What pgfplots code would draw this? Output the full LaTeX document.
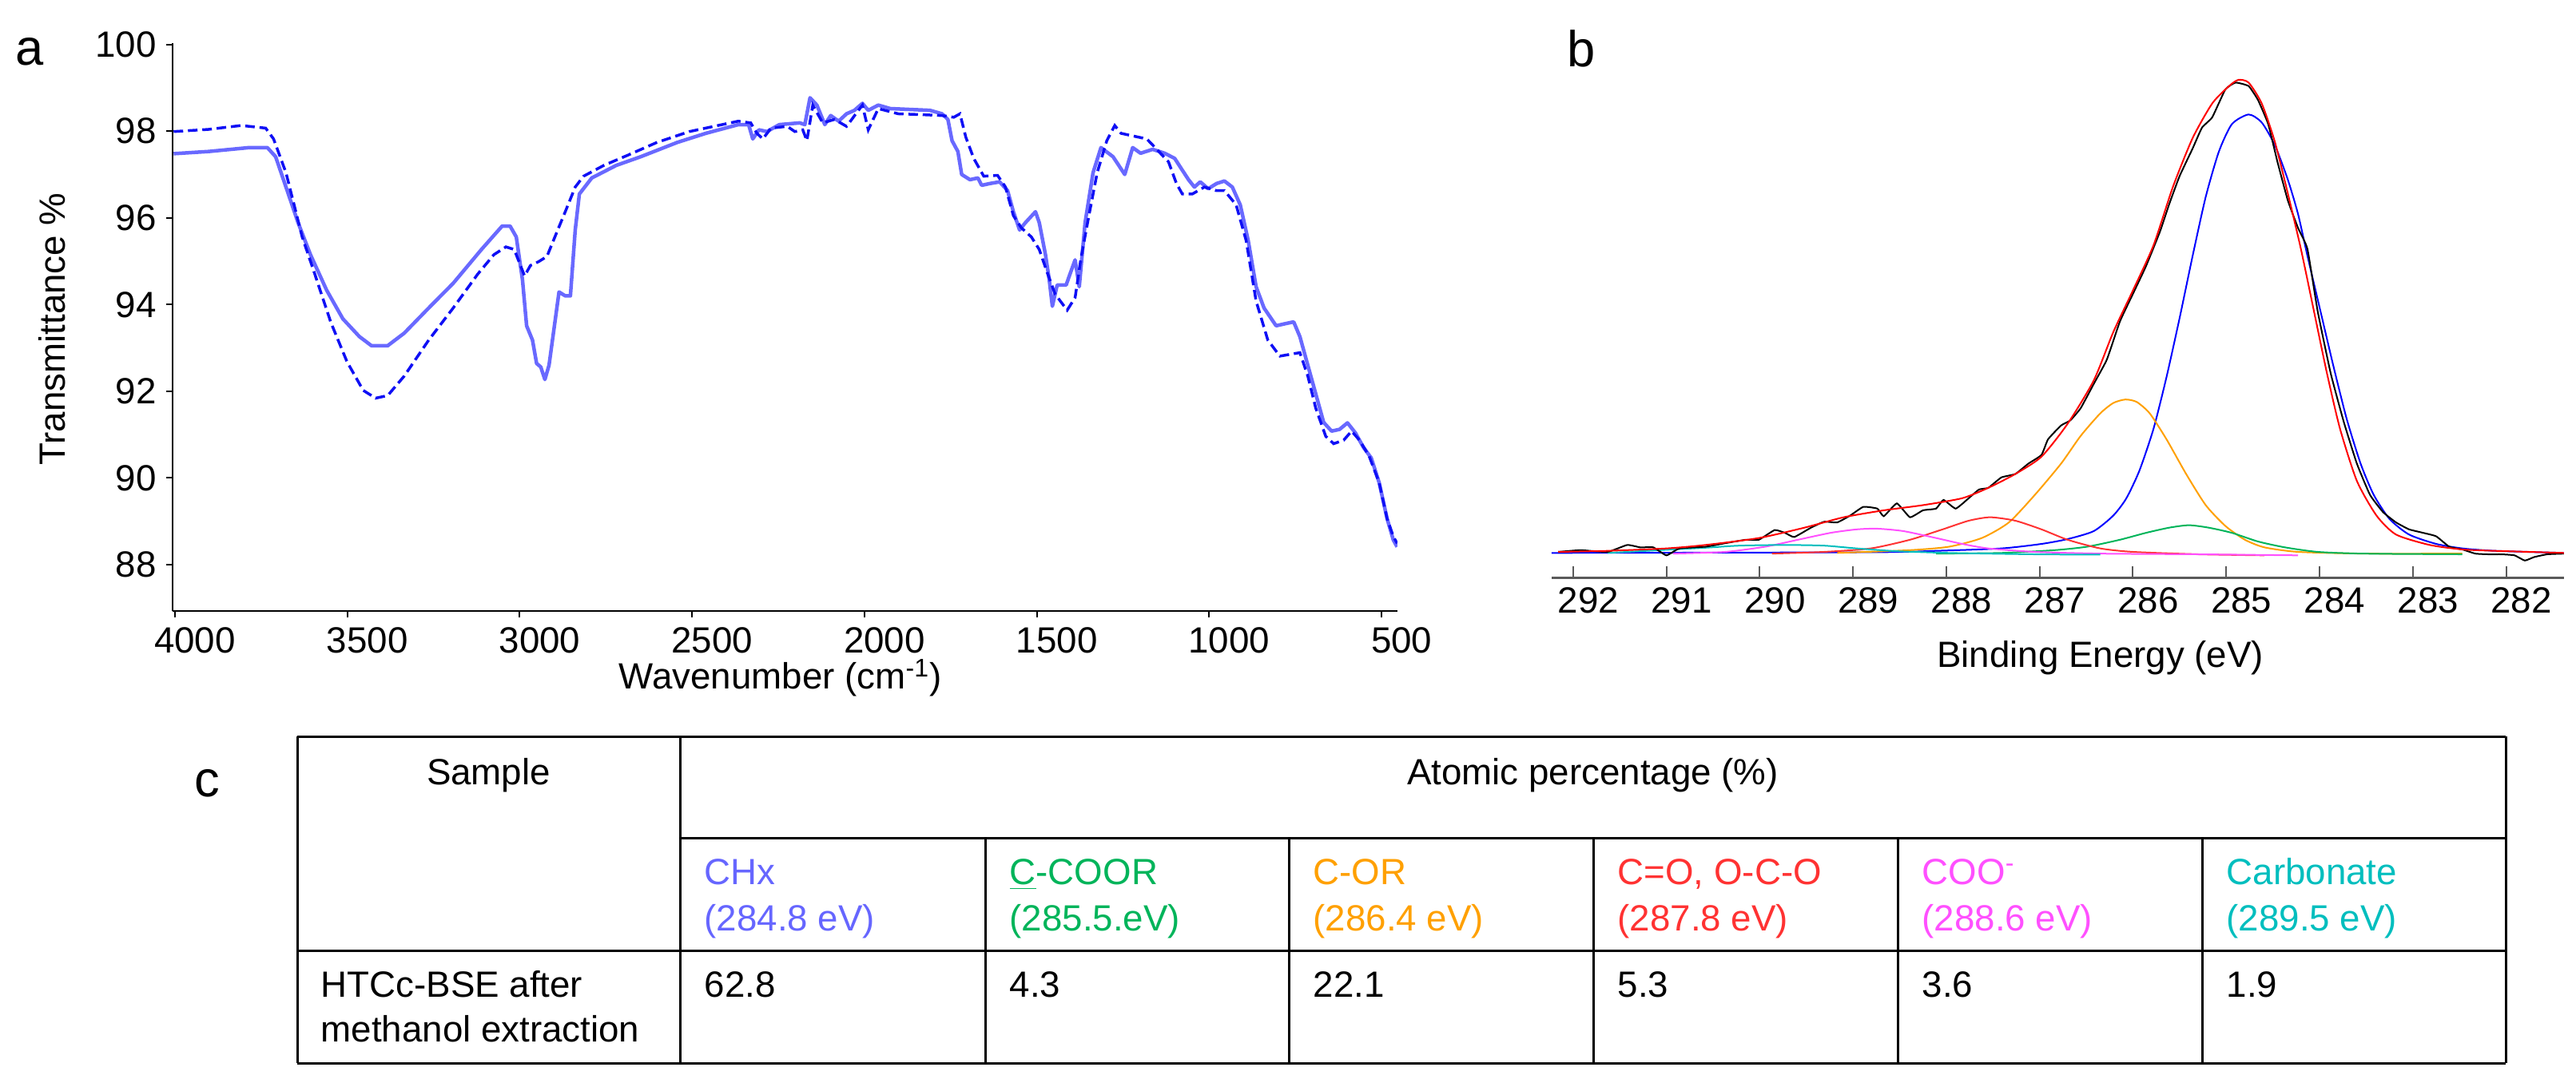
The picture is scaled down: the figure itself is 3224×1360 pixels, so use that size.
\documentclass[border=0pt]{standalone}
\usepackage{fontspec}
\setmainfont{Liberation Sans}
\usepackage{pgfplots}
\pgfplotsset{compat=1.18}

\definecolor{ftirA}{RGB}{105,105,255}
\definecolor{ftirB}{RGB}{15,15,245}
\definecolor{cCHx}{RGB}{102,102,255}
\definecolor{cCCOOR}{RGB}{0,180,90}
\definecolor{cCOR}{RGB}{255,160,0}
\definecolor{cCO}{RGB}{255,50,50}
\definecolor{cCOO}{RGB}{255,80,255}
\definecolor{cCarb}{RGB}{0,190,190}
\definecolor{axgray}{RGB}{90,90,90}

\newcommand\fs{\fontsize{13}{15.6}\selectfont}
\newcommand\fl{\fontsize{18}{20}\selectfont}

\begin{document}
\begin{tikzpicture}[x=0.1mm,y=0.1mm,font=\fs]
\useasboundingbox (0,0) rectangle (3224,1360);

% ---- a: FTIR ----
\begin{axis}[
    at={(21.6mm,59.5mm)}, anchor=south west, scale only axis,
    width=153.3mm, height=71.1mm,
    xmin=454, xmax=4007, ymin=86.93, ymax=100.03,
    x dir=reverse,
    axis x line=bottom, axis y line=left,
    axis line style={-, line width=0.2mm},
    tick align=outside, major tick length=0.8mm,
    tick style={black, line width=0.2mm},
    xtick={500,1000,...,4000}, ytick={88,90,...,100},
    scaled ticks=false,
    tick label style={font=\fs},
    xticklabel style={xshift=2.5mm},
    /pgf/number format/1000 sep={},
    /pgf/number format/assume math mode=true,
    xlabel={Wavenumber (cm\textsuperscript{-1})},
    ylabel={Transmittance \%},
    every axis x label/.style={at={(axis description cs:0.4964,-0.1378)}, anchor=base, font=\fs},
    every axis y label/.style={at={(axis description cs:-0.0875,0.4965)}, rotate=90, anchor=base, font=\fs},
]
\addplot[ftirA, line width=0.45mm, line join=round] coordinates {
(4004,97.48)(3903,97.53)(3785,97.62)(3732,97.62)(3708,97.41)(3678,96.71)
(3643,95.89)(3607,95.15)(3560,94.33)(3513,93.67)(3465,93.26)(3430,93.05)
(3383,93.05)(3335,93.34)(3264,93.92)(3193,94.49)(3111,95.27)(3051,95.81)
(3028,95.81)(3010,95.56)(2992,94.57)(2980,93.51)(2963,93.18)(2951,92.64)
(2939,92.56)(2927,92.27)(2915,92.60)(2898,93.59)(2886,94.29)(2868,94.20)
(2853,94.20)(2839,95.72)(2827,96.55)(2791,96.92)(2720,97.21)(2649,97.41)
(2543,97.74)(2460,97.95)(2366,98.15)(2336,98.15)(2324,97.82)(2306,98.03)
(2283,97.99)(2247,98.15)(2188,98.19)(2173,98.15)(2158,98.77)(2138,98.60)
(2115,98.15)(2098,98.36)(2075,98.23)(2052,98.40)(2029,98.48)(2006,98.64)
(1989,98.48)(1960,98.60)(1925,98.52)(1868,98.50)(1810,98.48)(1775,98.40)
(1758,98.27)(1746,97.78)(1729,97.53)(1718,97.00)(1694,96.88)(1671,96.92)
(1660,96.75)(1637,96.79)(1608,96.83)(1585,96.63)(1568,96.14)(1550,95.72)
(1533,95.89)(1504,96.14)(1493,95.89)(1475,95.15)(1464,94.57)(1455,93.96)
(1441,94.45)(1415,94.45)(1404,94.70)(1389,95.03)(1377,94.41)(1360,95.89)
(1337,97.04)(1314,97.62)(1279,97.41)(1245,97.00)(1222,97.62)(1199,97.49)
(1164,97.58)(1129,97.49)(1100,97.37)(1083,97.16)(1060,96.88)(1043,96.71)
(1026,96.83)(1003,96.67)(979,96.79)(956,96.85)(933,96.71)(910,96.30)
(887,95.48)(864,94.41)(841,93.92)(806,93.51)(784,93.55)(755,93.60)
(737,93.26)(714,92.60)(691,91.94)(668,91.28)(645,91.08)(622,91.12)
(599,91.27)(576,91.04)(553,90.71)(530,90.46)(507,89.89)(484,89.06)
(466,88.57)(455,88.41)};
\addplot[ftirB, line width=0.35mm, dash pattern=on 1.2mm off 0.6mm] coordinates {
(4004,97.99)(3903,98.04)(3808,98.13)(3737,98.07)(3714,97.82)(3678,97.04)
(3631,95.56)(3596,94.74)(3548,93.59)(3501,92.68)(3454,92.02)(3418,91.84)
(3383,91.90)(3335,92.35)(3264,93.18)(3193,93.92)(3122,94.70)(3075,95.15)
(3040,95.33)(3016,95.27)(2986,94.66)(2969,94.90)(2945,94.99)(2921,95.11)
(2898,95.56)(2868,96.14)(2839,96.71)(2815,96.96)(2756,97.21)(2685,97.45)
(2602,97.74)(2508,97.99)(2425,98.13)(2366,98.23)(2330,98.19)(2312,97.95)
(2295,97.82)(2271,98.07)(2224,98.11)(2202,97.99)(2179,98.03)(2167,97.78)
(2150,98.60)(2121,98.19)(2087,98.27)(2052,98.11)(2006,98.60)(1989,98.03)
(1960,98.52)(1902,98.40)(1833,98.38)(1775,98.36)(1741,98.32)(1723,98.40)
(1706,97.86)(1683,97.37)(1654,96.96)(1614,96.98)(1591,96.71)(1568,96.05)
(1545,95.77)(1516,95.56)(1493,95.27)(1470,94.74)(1447,94.24)(1412,93.87)
(1389,94.16)(1372,95.07)(1349,96.05)(1325,97.04)(1297,97.78)(1274,98.13)
(1256,97.95)(1216,97.88)(1181,97.82)(1152,97.58)(1118,97.29)(1095,96.79)
(1078,96.55)(1049,96.55)(1014,96.71)(980,96.63)(956,96.63)(922,96.30)
(893,95.48)(864,94.08)(830,93.18)(795,92.81)(766,92.85)(737,92.89)
(714,92.35)(691,91.61)(662,90.96)(639,90.79)(610,90.87)(587,91.08)
(564,90.87)(536,90.50)(507,89.89)(484,89.06)(466,88.65)(455,88.49)};
\end{axis}

% ---- b: XPS C1s ----
\begin{axis}[
    at={(194.2mm,63.65mm)}, anchor=south west, scale only axis,
    width=126.7mm, height=66.95mm,
    xmin=281.38, xmax=292.23, ymin=-72, ymax=1472,
    x dir=reverse,
    axis x line=bottom, axis y line=none,
    axis line style={-, axgray, line width=0.25mm},
    tick align=inside, major tick length=1.5mm,
    tick style={axgray, line width=0.2mm},
    xtick={282,283,...,292},
    tick label style={font=\fs},
    xticklabel style={xshift=1.9mm},
    /pgf/number format/assume math mode=true,
    xlabel={Binding Energy (eV)},
    every axis x label/.style={at={(axis description cs:0.542,-0.1673)}, anchor=base, font=\fs},
    every axis plot/.append style={line width=0.2mm, smooth, tension=0.4},
]
% CHx
\addplot[blue] coordinates {
(292.23,0)(288.81,2)(288.11,6)(287.41,13)(286.98,26)(286.70,40)(286.42,63)
(286.21,108)(286.07,158)(285.93,238)(285.78,358)(285.64,508)(285.50,678)
(285.36,858)(285.22,1028)(285.08,1158)(284.94,1238)(284.76,1266)(284.62,1243)
(284.48,1178)(284.34,1078)(284.23,978)(284.13,858)(283.99,698)(283.85,538)
(283.71,388)(283.56,258)(283.42,168)(283.25,98)(283.04,53)(282.75,26)
(282.47,13)(282.12,6)(281.38,0)};
% C-OR
\addplot[cCOR] coordinates {
(289.17,0)(288.39,8)(287.97,18)(287.62,43)(287.33,88)(287.05,168)(286.77,258)
(286.56,338)(286.35,403)(286.21,433)(286.08,443)(285.96,436)(285.82,403)
(285.64,328)(285.43,228)(285.22,138)(285.01,78)(284.80,38)(284.59,16)
(284.23,3)(283.53,-2)(282.47,-2)};
% C-COOR
\addplot[cCCOOR] coordinates {
(288.11,-2)(287.41,0)(286.84,8)(286.49,18)(286.14,38)(285.86,58)(285.61,73)
(285.40,80)(285.19,73)(284.94,58)(284.66,33)(284.37,16)(284.02,3)
(283.53,-2)(282.47,-4)};
% C=O, O-C-O
\addplot[cCO] coordinates {
(289.87,-2)(289.31,3)(288.81,13)(288.39,38)(288.04,68)(287.76,93)(287.53,103)
(287.26,93)(286.98,68)(286.70,38)(286.35,13)(286.00,3)(285.29,-4)(284.59,-7)};
% COO-
\addplot[cCOO] coordinates {
(290.93,-2)(290.37,3)(289.94,18)(289.59,38)(289.24,58)(288.96,68)(288.74,70)
(288.46,63)(288.11,43)(287.83,26)(287.55,13)(287.05,3)(286.35,-2)
(285.29,-4)(284.23,-7)};
% carbonate
\addplot[cCarb] coordinates {
(291.63,0)(291.07,8)(290.58,15)(290.22,21)(289.73,23)(289.31,21)(288.96,13)
(288.53,5)(287.97,0)(287.05,-4)(286.35,-5)};
% measured
\addplot[black, tension=0.25] coordinates {
(292.16,3)(291.92,8)(291.63,3)(291.42,23)(291.28,16)(291.14,16)(291.00,-7)
(290.86,13)(290.58,18)(290.37,28)(290.15,38)(290.01,38)(289.84,66)(289.73,58)
(289.63,46)(289.45,73)(289.31,90)(289.17,88)(289.03,108)(288.89,133)
(288.74,128)(288.67,106)(288.53,143)(288.39,103)(288.25,123)(288.11,128)
(288.03,153)(287.90,128)(287.76,158)(287.65,183)(287.55,188)(287.41,218)
(287.26,228)(287.12,258)(286.98,283)(286.91,328)(286.77,368)(286.67,383)
(286.56,418)(286.42,488)(286.28,558)(286.14,668)(286.00,748)(285.86,828)
(285.71,928)(285.61,1008)(285.50,1088)(285.36,1168)(285.26,1228)(285.15,1258)
(285.01,1338)(284.90,1358)(284.76,1348)(284.66,1308)(284.55,1238)(284.45,1128)
(284.34,1018)(284.23,938)(284.13,878)(284.02,698)(283.88,518)(283.74,378)
(283.60,258)(283.46,168)(283.32,118)(283.18,88)(283.04,68)(282.89,58)
(282.75,48)(282.61,18)(282.47,10)(282.33,-2)(282.19,-4)(282.05,-4)
(281.91,-7)(281.80,-22)(281.70,-12)(281.56,-4)(281.38,-2)};
% envelope
\addplot[red] coordinates {
(292.16,3)(291.63,6)(291.00,13)(290.58,23)(290.01,43)(289.52,73)(289.10,103)
(288.67,123)(288.25,138)(287.83,158)(287.55,188)(287.26,228)(286.98,278)
(286.70,373)(286.42,498)(286.21,638)(286.00,758)(285.78,888)(285.57,1058)
(285.36,1198)(285.15,1298)(284.97,1348)(284.87,1366)(284.76,1358)
(284.62,1298)(284.48,1188)(284.34,1038)(284.20,878)(284.06,698)(283.92,518)
(283.78,358)(283.60,208)(283.39,108)(283.18,53)(282.82,23)(282.47,10)
(282.12,6)(281.38,0)};
\end{axis}

% ---- panel letters ----
\node[font=\fl, anchor=base west, inner sep=0] at (19,1278) {a};
\node[font=\fl, anchor=base west, inner sep=0] at (1961,1276) {b};
\node[font=\fl, anchor=base west, inner sep=0] at (243,363) {c};

% ---- c: table ----
\begin{scope}[line width=0.3mm]
\draw (372,438) -- (3136,438);
\draw (851,311) -- (3136,311);
\draw (372,170) -- (3136,170);
\draw (372,29) -- (3136,29);
\draw (372,29) -- (372,438);
\draw (851,29) -- (851,438);
\draw (3136,29) -- (3136,438);
\foreach \xx in {1233,1613,1994,2375,2756} \draw (\xx,29) -- (\xx,311);
\end{scope}
\begin{scope}[every node/.style={inner sep=0, anchor=base west}]
\node[anchor=base] at (611.5,378) {Sample};
\node[anchor=base] at (1993.5,378) {Atomic percentage (\%)};
\node[text=cCHx] at (881,253) {CHx};
\node[text=cCHx] at (881,195) {(284.8 eV)};
\node[text=cCCOOR] at (1263,253) {\underline{C}-COOR};
\node[text=cCCOOR] at (1263,195) {(285.5.eV)};
\node[text=cCOR] at (1643,253) {C-OR};
\node[text=cCOR] at (1643,195) {(286.4 eV)};
\node[text=cCO] at (2024,253) {C=O, O-C-O};
\node[text=cCO] at (2024,195) {(287.8 eV)};
\node[text=cCOO] at (2405,253) {COO\textsuperscript{-}};
\node[text=cCOO] at (2405,195) {(288.6 eV)};
\node[text=cCarb] at (2786,253) {Carbonate};
\node[text=cCarb] at (2786,195) {(289.5 eV)};
\node at (401,112) {HTCc-BSE after};
\node at (401,56) {methanol extraction};
\node at (881,112) {62.8};
\node at (1263,112) {4.3};
\node at (1643,112) {22.1};
\node at (2024,112) {5.3};
\node at (2405,112) {3.6};
\node at (2786,112) {1.9};
\end{scope}
\end{tikzpicture}
\end{document}
